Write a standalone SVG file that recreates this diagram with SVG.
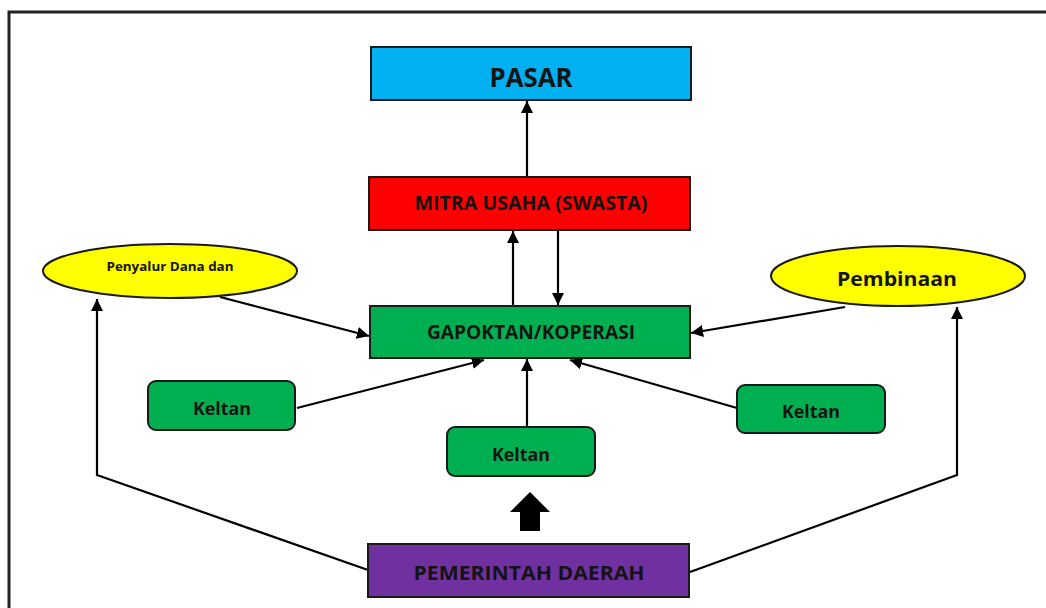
<svg xmlns="http://www.w3.org/2000/svg" width="1046" height="608" viewBox="0 0 1046 608">
<defs>
<marker id="ah" viewBox="0 0 10 10" refX="10" refY="5" markerWidth="5.5" markerHeight="5.5" orient="auto" markerUnits="strokeWidth">
<path d="M0,0 L10,5 L0,10 Z" fill="#000"/>
</marker>
<style>
.box{stroke:#1a1a1a;stroke-width:2}
.lbl{font-family:"Open Sans","Liberation Sans",sans-serif;font-weight:bold;fill:#141414;text-anchor:middle;dominant-baseline:central}
.con{stroke:#000;stroke-width:2.2;fill:none}
.arr{marker-end:url(#ah)}
</style>
</defs>
<rect width="1046" height="608" fill="#fff"/>
<path d="M9,608 V12 H1046" fill="none" stroke="#222" stroke-width="3"/>
<g id="connectors">
<line class="con arr" x1="527" y1="177" x2="527" y2="101"/>
<line class="con arr" x1="513" y1="306" x2="513" y2="231"/>
<line class="con arr" x1="558" y1="231" x2="558" y2="305"/>
<line class="con arr" x1="220" y1="297" x2="369" y2="336"/>
<line class="con arr" x1="845" y1="307" x2="691" y2="333"/>
<line class="con arr" x1="297" y1="408" x2="484" y2="360"/>
<line class="con arr" x1="527" y1="427" x2="527" y2="359"/>
<line class="con arr" x1="737" y1="408" x2="570" y2="360"/>
<polyline class="con arr" points="368,570 97,475 97,299"/>
<polyline class="con arr" points="690,572 957,475 957,307"/>
<path d="M530,492 L550,512 L540,512 L540,531 L520,531 L520,512 L510,512 Z" fill="#000"/>
</g>
<g id="pasar">
<rect class="box" x="371" y="47" width="320" height="53" fill="#00B0F0"/>
<text class="lbl" x="531" y="77" font-size="26" textLength="83" lengthAdjust="spacingAndGlyphs">PASAR</text>
</g>
<g id="mitra">
<rect class="box" x="369" y="177" width="321" height="53" fill="#FF0000"/>
<text class="lbl" x="531" y="203" font-size="19" textLength="233" lengthAdjust="spacingAndGlyphs">MITRA USAHA (SWASTA)</text>
</g>
<g id="gapoktan">
<rect class="box" x="370" y="306" width="320" height="52" fill="#00B050"/>
<text class="lbl" x="531" y="332" font-size="19" textLength="208" lengthAdjust="spacingAndGlyphs">GAPOKTAN/KOPERASI</text>
</g>
<g id="penyalur">
<ellipse class="box" cx="170" cy="271" rx="127" ry="27" fill="#FFFF00"/>
<text class="lbl" x="170" y="266" font-size="12" textLength="127" lengthAdjust="spacingAndGlyphs">Penyalur Dana dan</text>
</g>
<g id="pembinaan">
<ellipse class="box" cx="898" cy="276" rx="127" ry="30" fill="#FFFF00"/>
<text class="lbl" x="897" y="278" font-size="20" textLength="120" lengthAdjust="spacingAndGlyphs">Pembinaan</text>
</g>
<g id="keltan-left">
<rect class="box" x="148" y="381" width="147" height="49" rx="8" fill="#00B050"/>
<text class="lbl" x="222" y="408" font-size="18" textLength="58" lengthAdjust="spacingAndGlyphs">Keltan</text>
</g>
<g id="keltan-mid">
<rect class="box" x="447" y="427" width="148" height="49" rx="8" fill="#00B050"/>
<text class="lbl" x="521" y="454" font-size="18" textLength="58" lengthAdjust="spacingAndGlyphs">Keltan</text>
</g>
<g id="keltan-right">
<rect class="box" x="737" y="385" width="148" height="48" rx="8" fill="#00B050"/>
<text class="lbl" x="811" y="411" font-size="18" textLength="58" lengthAdjust="spacingAndGlyphs">Keltan</text>
</g>
<g id="pemerintah">
<rect class="box" x="368" y="544" width="321" height="53" fill="#7030A0"/>
<text class="lbl" x="529" y="572" font-size="20" textLength="231" lengthAdjust="spacingAndGlyphs">PEMERINTAH DAERAH</text>
</g>
</svg>
